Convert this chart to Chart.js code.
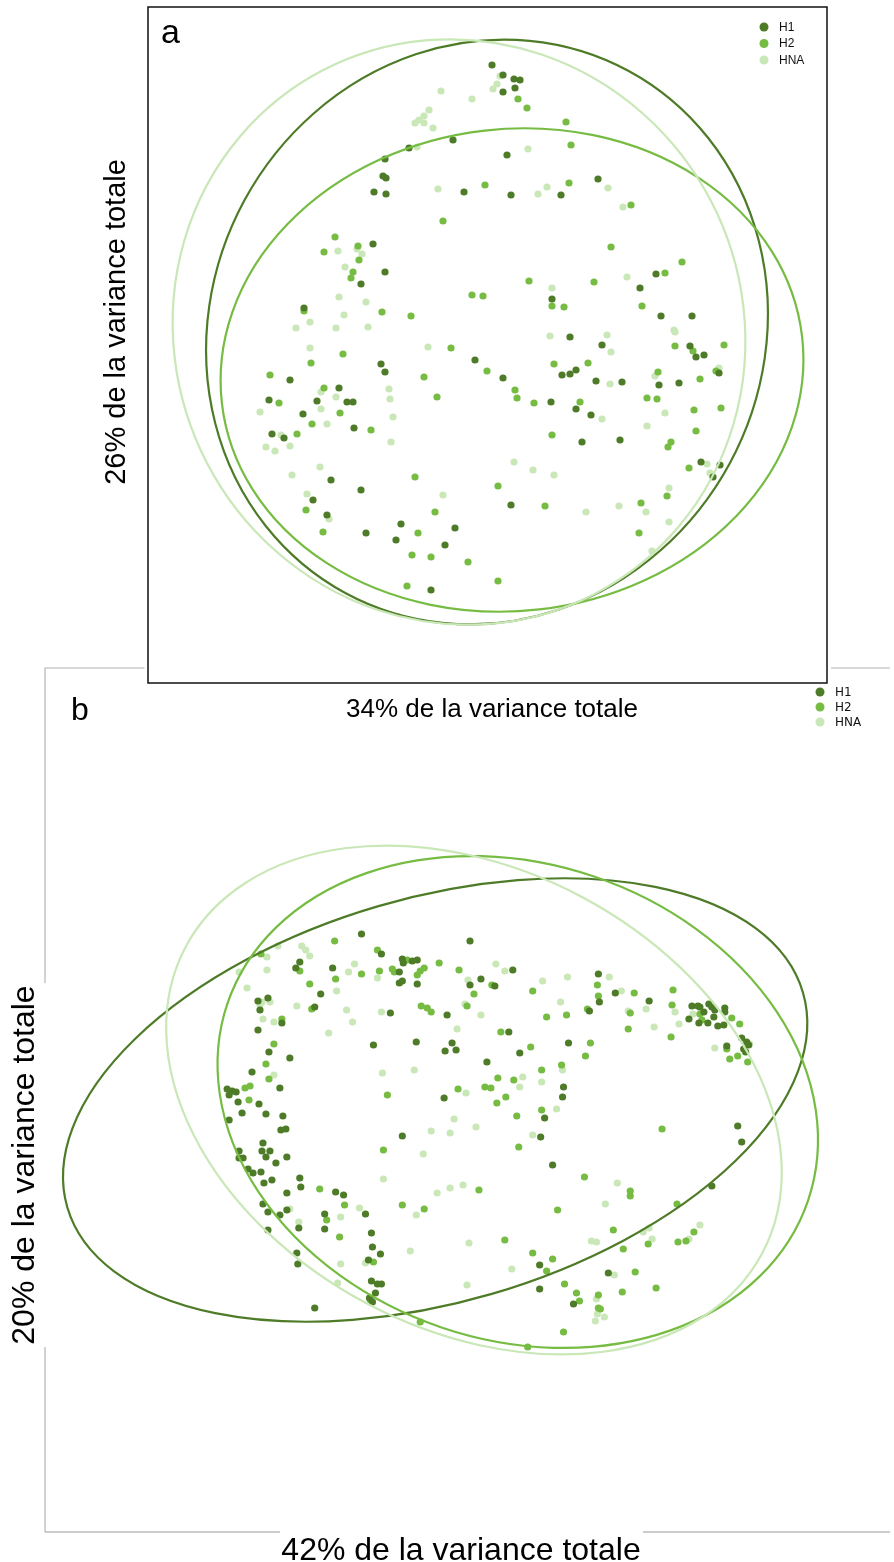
<!DOCTYPE html>
<html>
<head>
<meta charset="utf-8">
<script src="https://cdn.jsdelivr.net/npm/chart.js@4.4.1/dist/chart.umd.min.js"></script>
<style>
  html, body { margin: 0; padding: 0; background: #fff; }
  #wrap { position: relative; width: 894px; height: 1562px; }
  canvas { position: absolute; left: 0; top: 0; }
</style>
</head>
<body>
<div id="wrap">
  <canvas id="chart-b" width="894" height="1562"></canvas>
  <canvas id="chart-a" width="894" height="730"></canvas>
</div>
<script>
const groups = ["H1", "H2", "HNA"];

// panel a : scores on axis 1 (34%) / axis 2 (26%)
const aH1 = [[492,65],[503,75],[514,79],[520,80],[503,92],[515,88],[453,140],[409,148],[385,159],[383,176],[386,178],[464,192],[374,192],[386,194],[373,244],[385,272],[361,284],[304,308],[507,155],[598,179],[561,195],[511,195],[656,274],[640,288],[552,299],[661,316],[692,316],[475,360],[381,364],[385,372],[290,380],[339,388],[269,400],[317,401],[347,402],[353,402],[303,414],[354,428],[272,434],[284,438],[331,480],[361,490],[313,500],[327,515],[366,533],[401,524],[396,540],[455,528],[445,545],[431,590],[570,337],[602,345],[690,346],[696,357],[704,355],[503,378],[562,375],[570,374],[576,370],[596,381],[622,382],[659,385],[679,383],[719,373],[551,402],[576,409],[591,415],[582,442],[620,440],[701,462],[720,465],[713,477],[511,505]];
const aH2 = [[485,185],[443,221],[335,237],[324,252],[358,246],[359,260],[353,272],[351,278],[472,295],[483,296],[304,311],[382,312],[411,316],[518,99],[527,108],[566,122],[571,145],[569,183],[631,205],[611,247],[682,262],[665,273],[529,281],[594,282],[552,306],[564,307],[642,306],[343,354],[311,363],[451,348],[487,371],[270,375],[424,377],[437,397],[324,388],[279,403],[340,413],[312,424],[371,430],[297,434],[415,477],[498,486],[306,510],[435,512],[323,532],[418,533],[412,555],[431,557],[468,562],[498,581],[407,586],[675,346],[693,351],[724,345],[554,364],[588,363],[658,372],[700,379],[716,371],[515,390],[517,398],[534,403],[580,402],[647,398],[657,399],[694,410],[721,408],[552,435],[696,431],[671,442],[668,447],[689,468],[545,506],[641,503],[667,496],[639,533]];
const aHNA = [[500,76],[441,91],[472,99],[497,84],[493,89],[429,110],[424,116],[419,120],[415,123],[424,123],[433,128],[417,147],[438,189],[338,251],[357,249],[362,254],[345,267],[339,297],[366,302],[344,315],[310,322],[296,328],[336,328],[368,327],[528,149],[608,188],[547,187],[538,194],[623,207],[627,277],[552,288],[674,330],[310,348],[428,347],[389,389],[390,399],[321,392],[336,397],[260,412],[321,409],[393,417],[327,424],[281,435],[266,447],[275,451],[290,446],[391,442],[320,467],[292,475],[443,495],[307,494],[329,519],[550,336],[607,335],[611,352],[675,332],[610,384],[655,376],[719,368],[602,419],[665,413],[647,426],[514,462],[533,470],[554,475],[707,464],[710,473],[586,512],[619,506],[646,512],[669,488],[669,522],[652,551]];
// ellipses: centre x, centre y, semi-axis 1, semi-axis 2, angle (deg)
const aEllipses = [[487,332,276,297,28.5],[512,370,292,241,-6.5],[459,332,284,295,-27.5]];

// panel b : scores on axis 1 (42%) / axis 2 (20%)
const bH1 = [[363,934],[472,941],[383,954],[301,962],[297,968],[334,968],[404,959],[405,963],[414,961],[419,960],[401,972],[401,983],[404,981],[419,984],[472,985],[483,979],[322,994],[259,1001],[269,998],[261,1010],[316,1007],[392,1013],[449,1015],[283,1023],[259,1030],[375,1045],[418,1042],[454,1043],[447,1051],[458,1050],[270,1052],[291,1058],[489,1062],[253,1072],[281,1088],[228,1089],[233,1091],[237,1092],[230,1095],[446,1098],[239,1102],[260,1104],[243,1113],[267,1114],[284,1116],[230,1120],[282,1130],[287,1129],[404,1136],[264,1143],[263,1151],[271,1151],[240,1151],[240,1158],[244,1158],[267,1157],[288,1157],[277,1163],[249,1169],[254,1173],[262,1172],[273,1180],[265,1183],[301,1178],[302,1187],[337,1192],[345,1195],[288,1193],[367,1214],[264,1204],[269,1212],[288,1210],[281,1215],[326,1214],[300,1228],[326,1229],[269,1230],[373,1233],[374,1247],[298,1253],[382,1254],[299,1264],[370,1260],[373,1281],[379,1284],[383,1284],[377,1293],[371,1298],[374,1302],[316,1308],[515,970],[497,986],[601,974],[602,1002],[618,993],[652,1001],[592,1011],[695,1006],[701,1006],[703,1007],[712,1004],[715,1007],[718,1010],[728,1008],[728,1012],[707,1012],[717,1017],[692,1019],[702,1023],[711,1023],[721,1026],[727,1025],[745,1038],[750,1042],[752,1045],[747,1049],[749,1052],[730,1046],[511,1032],[522,1053],[571,1043],[566,1087],[565,1097],[547,1118],[543,1137],[741,1126],[745,1142],[555,1165],[715,1186],[542,1265],[611,1273],[542,1289],[576,1304]];
const bH2 = [[336,941],[262,954],[379,950],[301,971],[363,974],[337,979],[381,971],[409,960],[394,969],[396,972],[426,968],[422,971],[419,975],[441,963],[461,970],[476,994],[311,984],[313,1009],[423,1006],[429,1008],[433,1012],[469,1006],[283,1019],[275,1044],[267,1064],[270,1079],[246,1088],[251,1086],[460,1089],[487,1087],[389,1095],[250,1100],[385,1150],[321,1189],[481,1190],[346,1205],[404,1205],[426,1209],[328,1220],[341,1237],[375,1262],[372,1300],[422,1322],[494,985],[535,991],[600,985],[601,996],[637,993],[549,1017],[569,1015],[590,1009],[633,1013],[676,990],[675,1005],[631,1029],[674,1037],[703,1014],[705,1020],[735,1018],[743,1024],[730,1049],[741,1056],[733,1059],[751,1062],[503,1032],[533,1047],[593,1043],[588,1056],[564,1065],[544,1070],[500,1078],[516,1080],[493,1088],[508,1097],[499,1103],[544,1110],[519,1116],[521,1147],[665,1129],[587,1177],[633,1191],[633,1196],[680,1204],[560,1210],[616,1230],[697,1232],[689,1241],[681,1242],[651,1244],[626,1249],[507,1240],[535,1253],[555,1259],[549,1271],[638,1272],[567,1284],[579,1293],[625,1292],[659,1288],[582,1301],[601,1295],[601,1308],[603,1309],[566,1332],[530,1347]];
const bHNA = [[279,946],[268,957],[303,946],[307,950],[311,956],[268,970],[240,972],[356,964],[350,972],[379,978],[470,980],[248,988],[338,991],[263,1002],[271,1002],[261,1005],[298,1006],[348,1010],[383,1012],[467,1004],[483,1015],[264,1019],[275,1022],[354,1022],[459,1029],[330,1033],[384,1073],[416,1070],[275,1075],[468,1093],[456,1119],[478,1127],[433,1131],[452,1133],[425,1154],[385,1179],[439,1193],[452,1188],[465,1185],[361,1208],[291,1209],[418,1215],[342,1217],[300,1222],[471,1243],[412,1251],[342,1264],[367,1263],[339,1283],[469,1285],[498,964],[507,971],[545,981],[570,977],[612,977],[624,991],[563,1002],[631,1011],[649,1009],[678,1012],[682,1024],[657,1027],[696,1014],[753,1044],[718,1048],[565,1070],[525,1077],[522,1087],[544,1082],[559,1109],[535,1135],[620,1183],[608,1204],[646,1232],[652,1228],[655,1239],[703,1225],[692,1239],[594,1241],[599,1242],[514,1269],[617,1275],[599,1299],[600,1314],[607,1317],[598,1321]];
const bEllipses = [[437,1100,385,202,-16.3],[520,1102,308,238,18.7],[476,1100,328,230,28]];

const colours = ["#4e7b27", "#76bc43", "#c9e7b7"];

function toPoints(arr) {
  return arr.map(p => ({ x: p[0], y: p[1] }));
}

function makeDatasets(series) {
  return series.map((s, i) => ({
    label: groups[i],
    data: toPoints(s),
    backgroundColor: colours[i],
    borderWidth: 0,
    pointRadius: 3.6,
  }));
}

// draws the group ellipses through the chart scales
function drawEllipses(chart, ellipses) {
  const ctx = chart.ctx;
  const xs = chart.scales.x, ys = chart.scales.y;
  ctx.save();
  ellipses.forEach((e, i) => {
    const cx = xs.getPixelForValue(e[0]);
    const cy = ys.getPixelForValue(e[1]);
    const rx = Math.abs(xs.getPixelForValue(e[0] + e[2]) - cx);
    const ry = Math.abs(ys.getPixelForValue(e[1] + e[3]) - cy);
    ctx.beginPath();
    ctx.ellipse(cx, cy, rx, ry, e[4] * Math.PI / 180, 0, Math.PI * 2);
    ctx.strokeStyle = colours[i];
    ctx.lineWidth = 2.2;
    ctx.stroke();
  });
  ctx.restore();
}

function drawLegend(ctx, x, y, step, font) {
  ctx.save();
  ctx.font = font;
  ctx.textBaseline = "middle";
  groups.forEach((g, i) => {
    ctx.beginPath();
    ctx.arc(x, y + i * step, 4.5, 0, Math.PI * 2);
    ctx.fillStyle = colours[i];
    ctx.fill();
    ctx.fillStyle = "#111";
    ctx.fillText(g, x + 15, y + i * step + 0.5);
  });
  ctx.restore();
}

const panelA = {
  id: "panelA",
  beforeDraw(chart) {
    const ctx = chart.ctx, a = chart.chartArea;
    ctx.save();
    ctx.fillStyle = "#fff";
    ctx.fillRect(a.left - 3.5, 0, a.right - a.left + 7.5, a.bottom + 3.5);
    ctx.restore();
  },
  afterDatasetsDraw(chart) {
    drawEllipses(chart, aEllipses);
  },
  afterDraw(chart) {
    const ctx = chart.ctx, a = chart.chartArea;
    ctx.save();
    ctx.strokeStyle = "#111";
    ctx.lineWidth = 1.5;
    ctx.strokeRect(a.left, a.top, a.right - a.left, a.bottom - a.top);
    ctx.fillStyle = "#000";
    ctx.font = "34px 'Liberation Sans', Arial, sans-serif";
    ctx.fillText("a", 161, 43);
    ctx.font = "26px 'Liberation Sans', Arial, sans-serif";
    ctx.textAlign = "center";
    ctx.fillText("34% de la variance totale", 492, 717);
    ctx.translate(125, 322);
    ctx.rotate(-Math.PI / 2);
    ctx.font = "29px 'Liberation Sans', Arial, sans-serif";
    ctx.fillText("26% de la variance totale", 0, 0);
    ctx.restore();
    drawLegend(ctx, 764, 27, 16.5, "12px 'Liberation Sans', Arial, sans-serif");
  }
};

const panelB = {
  id: "panelB",
  beforeDraw(chart) {
    const ctx = chart.ctx, a = chart.chartArea;
    ctx.save();
    ctx.lineWidth = 1.2;
    ctx.strokeStyle = "#b4b4b4";
    ctx.beginPath();
    ctx.moveTo(a.left, a.bottom);
    ctx.lineTo(a.left, a.top);
    ctx.lineTo(a.right, a.top);
    ctx.stroke();
    ctx.strokeStyle = "#9a9a9a";
    ctx.beginPath();
    ctx.moveTo(a.left, a.bottom);
    ctx.lineTo(a.right, a.bottom);
    ctx.stroke();
    ctx.restore();
  },
  afterDatasetsDraw(chart) {
    drawEllipses(chart, bEllipses);
  },
  afterDraw(chart) {
    const ctx = chart.ctx;
    ctx.save();
    ctx.fillStyle = "#fff";
    ctx.fillRect(280, 1527, 363, 35);
    ctx.fillRect(0, 983, 48, 364);
    ctx.fillStyle = "#000";
    ctx.font = "32px 'Liberation Sans', Arial, sans-serif";
    ctx.fillText("b", 71, 720);
    ctx.textAlign = "center";
    ctx.fillText("42% de la variance totale", 461, 1560);
    ctx.translate(34, 1165);
    ctx.rotate(-Math.PI / 2);
    ctx.fillText("20% de la variance totale", 0, 0);
    ctx.restore();
    drawLegend(ctx, 820, 692, 15, "12px 'DejaVu Sans', sans-serif");
  }
};

function scatterOptions(xMin, xMax, yMin, yMax, padding) {
  return {
    responsive: false,
    animation: false,
    layout: { padding: padding },
    plugins: { legend: { display: false }, tooltip: { enabled: false } },
    scales: {
      x: { type: "linear", min: xMin, max: xMax, display: false },
      y: { type: "linear", min: yMin, max: yMax, reverse: true, display: false },
    },
  };
}

new Chart(document.getElementById("chart-b"), {
  type: "scatter",
  data: { datasets: makeDatasets([bH1, bH2, bHNA]) },
  options: scatterOptions(45, 894, 668, 1532, { left: 45, right: 0, top: 668, bottom: 30 }),
  plugins: [panelB],
});

new Chart(document.getElementById("chart-a"), {
  type: "scatter",
  data: { datasets: makeDatasets([aH1, aH2, aHNA]) },
  options: scatterOptions(148, 827, 7, 683, { left: 148, right: 67, top: 7, bottom: 47 }),
  plugins: [panelA],
});
</script>
</body>
</html>
